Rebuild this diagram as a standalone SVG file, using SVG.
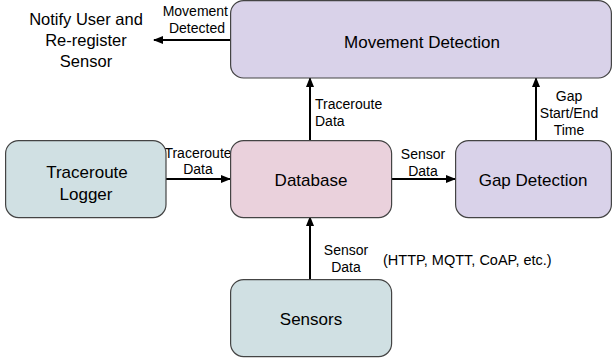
<svg xmlns="http://www.w3.org/2000/svg" width="613" height="358" viewBox="0 0 613 358">
<style>
text{font-family:"Liberation Sans",Arial,sans-serif;fill:#000}
.node{stroke:#444;stroke-width:1.2}
.n{font-size:17px;text-anchor:middle}
.l{font-size:14px}
.c{text-anchor:middle}
.edge{stroke:#000;stroke-width:2;fill:none}
</style>
<defs>
<marker id="arrow" viewBox="0 0 10 8" refX="9" refY="4" markerWidth="10" markerHeight="8" orient="auto" markerUnits="userSpaceOnUse">
<path d="M0,0 L10,4 L0,8 Z" fill="#000"/>
</marker>
</defs>
<g id="connectors">
<line class="edge" x1="231" y1="40" x2="154" y2="40" marker-end="url(#arrow)"/>
<line class="edge" x1="310" y1="140" x2="310" y2="78" marker-end="url(#arrow)"/>
<line class="edge" x1="536" y1="140" x2="536" y2="78" marker-end="url(#arrow)"/>
<line class="edge" x1="166" y1="179" x2="230" y2="179" marker-end="url(#arrow)"/>
<line class="edge" x1="392" y1="179" x2="455" y2="179" marker-end="url(#arrow)"/>
<line class="edge" x1="310" y1="279" x2="310" y2="217" marker-end="url(#arrow)"/>
<text class="l" x="228" y="16" text-anchor="end">Movement</text>
<text class="l" x="225" y="33" text-anchor="end">Detected</text>
<text class="l" x="315" y="109">Traceroute</text>
<text class="l" x="315" y="126">Data</text>
<text class="l c" x="569" y="101">Gap</text>
<text class="l c" x="569" y="118">Start/End</text>
<text class="l c" x="569" y="135">Time</text>
<text class="l c" x="198" y="158">Traceroute</text>
<text class="l c" x="198" y="174">Data</text>
<text class="l c" x="423" y="159">Sensor</text>
<text class="l c" x="423" y="176">Data</text>
<text class="l c" x="346" y="255">Sensor</text>
<text class="l c" x="346" y="272">Data</text>
<text class="l" x="383" y="265" style="font-size:14.5px">(HTTP, MQTT, CoAP, etc.)</text>
</g>
<g id="notify">
<text class="n" x="86" y="25" style="font-size:16.5px">Notify User and</text>
<text class="n" x="86" y="46" style="font-size:16.5px">Re-register</text>
<text class="n" x="86" y="67" style="font-size:16.5px">Sensor</text>
</g>
<g id="movement-detection">
<rect class="node" x="230.6" y="0.6" width="380.8" height="77.4" rx="13" fill="#d9d2e9"/>
<text class="n" x="422" y="48">Movement Detection</text>
</g>
<g id="traceroute-logger">
<rect class="node" x="5.6" y="140.6" width="160.4" height="77" rx="13" fill="#d0e0e3"/>
<text class="n" x="87" y="178">Traceroute</text>
<text class="n" x="86" y="200">Logger</text>
</g>
<g id="database">
<rect class="node" x="230.6" y="140.6" width="161" height="77" rx="13" fill="#ead1dc"/>
<text class="n" x="311" y="186">Database</text>
</g>
<g id="gap-detection">
<rect class="node" x="455.6" y="140.6" width="155.8" height="77" rx="13" fill="#d9d2e9"/>
<text class="n" x="533" y="186">Gap Detection</text>
</g>
<g id="sensors">
<rect class="node" x="230.6" y="279.6" width="161" height="77" rx="13" fill="#d0e0e3"/>
<text class="n" x="311" y="325">Sensors</text>
</g>
</svg>
